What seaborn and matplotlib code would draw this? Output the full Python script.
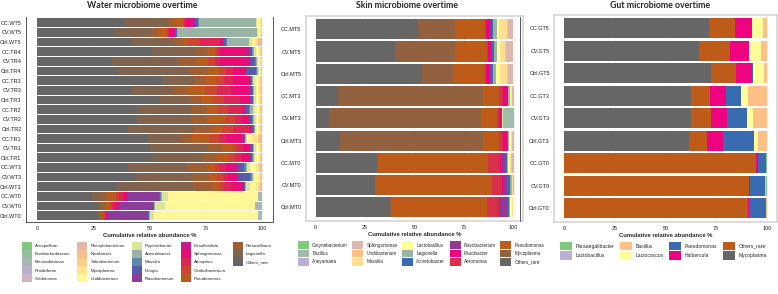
import matplotlib
matplotlib.use("Agg")
import matplotlib.pyplot as plt
from matplotlib.patches import Patch
from matplotlib.lines import Line2D
import seaborn as sns
import pandas as pd

# ----------------------------
# Data (relative abundance %, each row = one sample, columns in stacking order left -> right)
# ----------------------------
accent = ["#7FC97F", "#BEAED4", "#FDC086", "#FFFF99", "#386CB0", "#F0027F", "#BF5B17", "#666666"]

water_samples = ["CC.WT5", "CV.WT5", "Ctrl.WT5", "CC.TR4", "CV.TR4", "Ctrl.TR4", "CC.TR3", "CV.TR3",
                 "Ctrl.TR3", "CC.TR2", "CV.TR2", "Ctrl.TR2", "CC.TR1", "CV.TR1", "Ctrl.TR1",
                 "CC.WT3", "CV.WT3", "Ctrl.WT3", "CC.WT0", "CV.WT0", "Ctrl.WT0"]
water_taxa = ["Azospirillum", "Ecothiorhodosinus", "Brevundimonas", "Rhodoferax", "Caldimonas",
              "Phenylobacterium", "Nitrobacter", "Salinibacterium", "Mycoplasma", "Undibacterium",
              "Psychrobacter", "Acinetobacter", "Massilia", "Dongia", "Flavobacterium",
              "Desulfovibrio", "Sphingomonas", "Amorphus", "Oxalicibacterium", "Pseudomonas",
              "Perlucidibaca", "Legionella", "Others_rare"]
# order: Others_rare, Legionella, Perlucidibaca, Pseudomonas, Oxalicibacterium, Amorphus, Sphingomonas,
# Desulfovibrio, Flavobacterium, Dongia, Massilia, Acinetobacter, Psychrobacter, Undibacterium,
# Mycoplasma, Salinibacterium, Nitrobacter, Phenylobacterium, Caldimonas, Rhodoferax, Brevundimonas,
# Ecothiorhodosinus, Azospirillum
water_values = [
    [39.0, 19.0, 2.5, 4.5, 0.5, 0.5, 3.0, 1.0, 0.5, 1.0, 0.5, 25.3, 0.5, 1.2, 0.5, 0.3, 0.2, 0, 0, 0, 0, 0, 0],
    [34.7, 16.0, 2.5, 4.4, 0.5, 0.5, 2.0, 0.8, 0.4, 0.2, 0.0, 35.6, 0.5, 1.2, 0.4, 0.3, 0, 0, 0, 0, 0, 0, 0],
    [42.0, 19.0, 4.0, 2.0, 5.0, 9.4, 0.6, 0.5, 0.5, 1.0, 0.3, 9.7, 1.5, 1.5, 0.8, 0.6, 0.6, 1.0, 0, 0, 0, 0, 0],
    [50.5, 20.0, 5.0, 3.5, 1.0, 1.5, 11.5, 1.0, 0.5, 1.0, 0.3, 0.5, 1.0, 1.2, 0.6, 0.4, 0.3, 0.2, 0, 0, 0, 0, 0],
    [33.0, 30.0, 8.0, 5.0, 3.0, 2.0, 12.5, 1.0, 0.5, 2.0, 0.3, 0.3, 0.5, 0.9, 0.5, 0.3, 0.2, 0, 0, 0, 0, 0, 0],
    [35.5, 32.0, 8.5, 5.0, 3.0, 3.0, 5.5, 0.5, 0.5, 4.0, 0.3, 0.2, 0.5, 0.8, 0.4, 0.3, 0, 0, 0, 0, 0, 0, 0],
    [56.0, 14.0, 4.7, 5.0, 3.3, 4.0, 7.0, 0.7, 0.4, 0.4, 0.2, 0.3, 1.0, 1.5, 0.6, 0.4, 0.3, 0.2, 0, 0, 0, 0, 0],
    [42.0, 19.0, 5.5, 8.0, 5.5, 6.0, 8.0, 0.5, 0.5, 1.0, 0.2, 0.3, 0.8, 1.2, 0.6, 0.4, 0.3, 0.2, 0, 0, 0, 0, 0],
    [54.0, 14.0, 5.0, 5.0, 5.0, 7.0, 4.0, 0.7, 0.6, 0.7, 0.2, 0.3, 0.8, 1.2, 0.6, 0.4, 0.3, 0.2, 0, 0, 0, 0, 0],
    [45.0, 24.0, 6.5, 4.5, 5.0, 6.0, 1.0, 0.5, 0.5, 1.0, 0.5, 1.5, 1.0, 1.5, 0.6, 0.4, 0.3, 0.2, 0, 0, 0, 0, 0],
    [44.4, 24.0, 7.0, 8.6, 4.0, 3.0, 2.5, 0.5, 0.5, 1.0, 0.3, 0.5, 1.0, 1.2, 0.6, 0.4, 0.3, 0.2, 0, 0, 0, 0, 0],
    [40.6, 29.0, 8.4, 4.0, 5.0, 7.0, 1.0, 0.3, 0.2, 0.8, 0.2, 0.3, 0.7, 1.0, 0.6, 0.4, 0.3, 0.2, 0, 0, 0, 0, 0],
    [49.5, 15.0, 4.5, 8.0, 4.0, 3.0, 7.0, 0.7, 0.8, 0.0, 0.0, 0.3, 0.7, 2.0, 2.5, 0.8, 0.6, 0.6, 0, 0, 0, 0, 0],
    [50.0, 26.0, 6.0, 5.0, 2.0, 2.5, 3.0, 0.3, 0.2, 1.0, 0.2, 0.3, 0.8, 1.2, 0.6, 0.4, 0.3, 0.2, 0, 0, 0, 0, 0],
    [52.0, 22.0, 6.0, 5.0, 3.0, 3.0, 3.0, 0.5, 0.5, 0.5, 0.3, 0.5, 0.7, 1.5, 0.6, 0.4, 0.3, 0.2, 0, 0, 0, 0, 0],
    [40.6, 26.0, 9.0, 3.0, 2.4, 3.0, 3.0, 2.0, 1.0, 2.0, 1.0, 0.5, 1.0, 3.0, 1.0, 0.6, 0.5, 0.4, 0, 0, 0, 0, 0],
    [44.0, 25.0, 8.0, 3.0, 3.0, 2.0, 3.0, 1.0, 1.0, 4.5, 1.0, 0.3, 0.7, 2.0, 0.6, 0.4, 0.3, 0.2, 0, 0, 0, 0, 0],
    [35.5, 34.0, 8.5, 3.0, 2.0, 3.0, 5.0, 1.0, 0.2, 0.2, 0.1, 0.5, 1.5, 3.0, 1.0, 0.6, 0.5, 0.4, 0, 0, 0, 0, 0],
    [24.6, 4.4, 2.0, 4.0, 1.5, 1.5, 1.5, 1.0, 13.5, 0.5, 0.5, 0.5, 2.5, 40.0, 0, 0, 0, 0, 0, 0, 2.0, 0, 0],
    [27.0, 2.0, 1.5, 2.0, 1.0, 1.0, 1.5, 1.0, 14.6, 0.2, 0.2, 0.5, 4.5, 40.0, 0, 0, 0, 0, 0, 0, 3.0, 0, 0],
    [26.5, 1.5, 1.0, 0.5, 0.5, 0.5, 0.5, 0.5, 18.0, 0.2, 0.1, 0.2, 1.8, 46.6, 0, 0, 0, 0, 0, 0, 1.6, 0, 0],
]

skin_samples = ["CC.MT5", "CV.MT5", "Ctrl.MT5", "CC.MT3", "CV.MT3", "Ctrl.MT3", "CC.MT0", "CV.MT0", "Ctrl.MT0"]
skin_taxa = ["Corynebacterium", "Bacillus", "Aneyamaea", "Sphingomonas", "Undibacterium", "Massilia",
             "Lactobacillus", "Legionella", "Acinetobacter", "Flavobacterium", "Paucibacter", "Aeromonas",
             "Pseudomonas", "Mycoplasma", "Others_rare"]
# order: Others_rare, Mycoplasma, Pseudomonas, Aeromonas, Paucibacter, Flavobacterium, Acinetobacter,
# Legionella, Lactobacillus, Massilia, Undibacterium, Sphingomonas, Aneyamaea, Bacillus, Corynebacterium
skin_values = [
    [51.8, 18.7, 15.0, 0.5, 2.0, 1.0, 0.7, 2.0, 0.8, 4.0, 0.5, 2.7, 0.1, 0.1, 0.1],
    [40.0, 30.5, 16.0, 0.5, 1.5, 0.7, 0.8, 1.7, 1.3, 2.5, 0.5, 3.7, 0.1, 0.1, 0.1],
    [54.0, 15.5, 16.0, 0.5, 2.0, 0.8, 0.8, 1.8, 1.6, 3.5, 0.5, 2.7, 0.1, 0.1, 0.1],
    [11.4, 73.2, 8.0, 2.0, 2.4, 0.2, 0.2, 0.6, 0.8, 0.4, 0.2, 0.6, 0, 0, 0],
    [7.0, 76.5, 8.1, 1.0, 1.4, 0.2, 0.1, 0.0, 0.5, 0.0, 0.0, 0.0, 0, 5.2, 0],
    [12.4, 72.2, 8.0, 2.0, 2.0, 0.2, 0.2, 0.5, 1.0, 0.5, 0.3, 0.7, 0, 0, 0],
    [30.9, 0.5, 55.6, 6.0, 0.5, 2.2, 0.9, 0.8, 0.6, 0.5, 0.5, 1.0, 0, 0, 0],
    [30.0, 0.3, 58.7, 5.0, 0.7, 1.8, 1.5, 1.0, 0.3, 0.2, 0.2, 0.3, 0, 0, 0],
    [37.6, 0.4, 48.6, 6.0, 0.4, 3.5, 1.1, 0.8, 0.8, 0.3, 0.2, 0.3, 0, 0, 0],
]

gut_samples = ["CC.GT5", "CV.GT5", "Ctrl.GT5", "CC.GT3", "CV.GT3", "Ctrl.GT3", "CC.GT0", "CV.GT0", "Ctrl.GT0"]
gut_taxa = ["Paraaegalibacter", "Lactobacillus", "Bacillus", "Lactococcus", "Pseudomonas",
            "Halbercula", "Others_rare", "Mycoplasma"]
# order: Mycoplasma, Others_rare, Halbercula, Pseudomonas, Lactococcus, Bacillus, Lactobacillus, Paraaegalibacter
gut_values = [
    [71.4, 12.9, 8.2, 0.0, 5.8, 1.7, 0, 0],
    [66.5, 15.5, 9.0, 0.0, 6.0, 3.0, 0, 0],
    [72.4, 12.3, 7.9, 0.6, 5.3, 1.5, 0, 0],
    [62.5, 9.3, 8.2, 7.4, 3.1, 9.5, 0, 0],
    [62.5, 9.9, 7.9, 10.0, 2.7, 7.0, 0, 0],
    [61.6, 8.8, 8.0, 15.3, 2.0, 4.3, 0, 0],
    [0.0, 94.6, 1.1, 3.8, 0.0, 0.0, 0, 0.5],
    [0.0, 91.0, 0.5, 7.5, 0.3, 0.2, 0, 0.5],
    [0.0, 90.9, 0.4, 8.3, 0.2, 0.2, 0, 0.0],
]

W, H = 778, 294

sns.set_theme(style="white")
plt.rcParams["font.family"] = ["Liberation Sans", "DejaVu Sans"]

fig = plt.figure(figsize=(W / 100, H / 100), dpi=100)


def box(x0, x1, top, bottom):
    return [x0 / W, 1 - bottom / H, (x1 - x0) / W, (bottom - top) / H]


def stacked(ax, samples, taxa, rows, ncolors):
    colors = sns.blend_palette(accent, ncolors)
    cmap = dict(zip(taxa, colors))
    stack = taxa[::-1]
    df = pd.DataFrame(rows, columns=stack, index=samples)
    cum = df.cumsum(axis=1)
    # draw the longest cumulative bar first, smaller ones on top
    for t in stack[::-1]:
        sns.barplot(x=cum[t].values, y=samples, order=samples, orient="y",
                    color=cmap[t], saturation=1, width=0.9, linewidth=0,
                    errorbar=None, ax=ax)
    n = len(samples)
    ax.set_xlim(-5, 105)
    ax.set_ylim(n - 1 + 0.6, -0.6)
    ax.set_xticks([0, 25, 50, 75, 100])
    ax.set_ylabel("")
    ax.set_xlabel("Cumulative relative abundance %", fontsize=4.2, fontweight="bold", labelpad=1.5)
    ax.tick_params(axis="both", labelsize=4, length=2, width=0.5, pad=1, colors="#333333", labelcolor="#222222")
    ax.grid(axis="x", color="#EDEDED", lw=0.5)
    ax.set_axisbelow(True)
    return colors


def legend(taxa, colors, ncol, x, y, fs, hl, hh, cs, ls, blanks=0):
    handles = [Patch(facecolor=c, edgecolor="none") for c in colors]
    labels = list(taxa)
    for _ in range(blanks):
        handles.append(Patch(facecolor="none", edgecolor="none"))
        labels.append("")
    fig.legend(handles, labels, ncol=ncol, loc="upper left", bbox_to_anchor=(x / W, 1 - y / H),
               frameon=False, fontsize=fs, handlelength=hl, handleheight=hh, handletextpad=0.7,
               columnspacing=cs, labelspacing=ls, borderpad=0, borderaxespad=0)


# Water
ax1 = fig.add_axes(box(25.75, 273.25, 16.9, 221.5))
c1 = stacked(ax1, water_samples, water_taxa, water_values, len(water_taxa))
for s in ["top", "right"]:
    ax1.spines[s].set_visible(False)
for s in ["left", "bottom"]:
    ax1.spines[s].set_color("#333333")
    ax1.spines[s].set_linewidth(0.6)
legend(water_taxa, c1, 5, 22, 242, 3.2, 2.25, 2.25, 1.5, 0.12, blanks=2)

# Skin
ax2 = fig.add_axes(box(305.6, 523.4, 15.9, 220.7))
c2 = stacked(ax2, skin_samples, skin_taxa, skin_values, len(skin_taxa))
for s in ax2.spines.values():
    s.set_color("#D5D5D5")
    s.set_linewidth(1.2)
legend(skin_taxa, c2, 5, 298, 241.5, 3.3, 2.4, 2.2, 0.95, 0.12)

# Gut
ax3 = fig.add_axes(box(554, 777, 14.8, 221.8))
c3 = stacked(ax3, gut_samples, gut_taxa, gut_values, len(gut_taxa))
for s in ax3.spines.values():
    s.set_color("#D5D5D5")
    s.set_linewidth(1.2)
legend(gut_taxa, c3, 4, 560, 242, 3.6, 2.4, 2.2, 1.15, 0.15)

# titles
fig.text(142.5 / W, 1 - 5 / H, "Water microbiome overtime", ha="center", va="center",
         fontsize=6.3, fontweight="bold", family=["Lato", "DejaVu Sans"])
fig.text(407.5 / W, 1 - 5 / H, "Skin microbiome overtime", ha="center", va="center",
         fontsize=6.3, fontweight="bold", family=["Lato", "DejaVu Sans"])
fig.text(660.5 / W, 1 - 5 / H, "Gut microbiome overtime", ha="center", va="center",
         fontsize=6.3, fontweight="bold", family=["Lato", "DejaVu Sans"])

# panel separators
for xs in [273, 520]:
    fig.add_artist(Line2D([xs / W, xs / W], [1 - 17 / H, 1 - 221 / H], color="#555555", lw=0.7))

fig.savefig("out.png", dpi=100)
